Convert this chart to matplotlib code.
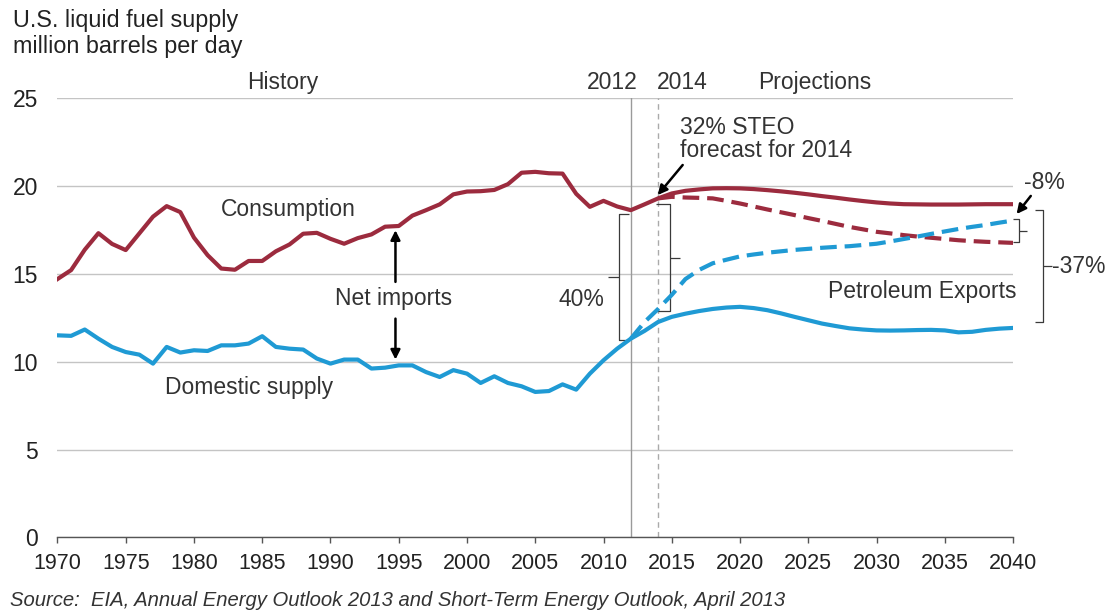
"""
U.S. liquid fuel supply, history and projections (EIA AEO 2013 / STEO).

Redraws the consumption vs. domestic supply chart with the STEO-adjusted
dashed projections and the bracket annotations on the right-hand side.
"""
import matplotlib
matplotlib.use("Agg")
import matplotlib.pyplot as plt

plt.rcParams["font.family"] = ["Liberation Sans", "DejaVu Sans"]

# --------------------------------------------------------------------------- #
# Data (million barrels per day)
# --------------------------------------------------------------------------- #

years_hist = list(range(1970, 2013))
consumption_hist = [
    14.70, 15.21, 16.37, 17.31, 16.70, 16.35, 17.30, 18.25, 18.85, 18.51,
    17.06, 16.06, 15.30, 15.23, 15.73, 15.73, 16.28, 16.67, 17.28, 17.33,
    16.99, 16.71, 17.03, 17.24, 17.68, 17.72, 18.31, 18.62, 18.95, 19.52,
    19.68, 19.70, 19.77, 20.10, 20.75, 20.80, 20.72, 20.70, 19.55, 18.81,
    19.15, 18.83, 18.62,
]
supply_hist = [
    11.50, 11.47, 11.83, 11.31, 10.84, 10.55, 10.40, 9.89, 10.84, 10.52,
    10.65, 10.61, 10.93, 10.93, 11.03, 11.45, 10.84, 10.74, 10.69, 10.18,
    9.89, 10.12, 10.12, 9.61, 9.66, 9.79, 9.79, 9.41, 9.13, 9.52,
    9.32, 8.79, 9.17, 8.79, 8.60, 8.28, 8.33, 8.71, 8.41, 9.32,
    10.08, 10.74, 11.31,
]

years_proj = list(range(2013, 2041))
consumption_proj = [
    18.95, 19.29, 19.57, 19.72, 19.80, 19.86, 19.87, 19.86, 19.82, 19.76,
    19.69, 19.61, 19.52, 19.42, 19.33, 19.23, 19.14, 19.06, 19.00, 18.96,
    18.95, 18.94, 18.94, 18.94, 18.95, 18.96, 18.96, 18.96,
]
supply_proj = [
    11.75, 12.26, 12.55, 12.73, 12.88, 13.00, 13.08, 13.12, 13.05, 12.93,
    12.75, 12.55, 12.36, 12.17, 12.03, 11.90, 11.83, 11.78, 11.77, 11.78,
    11.80, 11.81, 11.78, 11.67, 11.70, 11.81, 11.88, 11.92,
]

# STEO-adjusted projections (dashed)
years_steo_cons = list(range(2014, 2041))
steo_consumption = [
    19.29, 19.38, 19.34, 19.32, 19.29, 19.15, 19.00, 18.83, 18.66, 18.50,
    18.34, 18.17, 18.01, 17.84, 17.67, 17.53, 17.39, 17.30, 17.20, 17.12,
    17.05, 16.98, 16.91, 16.86, 16.82, 16.79, 16.76,
]
years_steo_supply = list(range(2012, 2041))
steo_supply = [
    11.31, 12.25, 13.00, 13.80, 14.70, 15.22, 15.60, 15.80, 15.99, 16.10,
    16.20, 16.28, 16.36, 16.42, 16.48, 16.53, 16.57, 16.64, 16.71, 16.84,
    16.98, 17.12, 17.27, 17.41, 17.55, 17.67, 17.78, 17.91, 18.03,
]

y_ticks = [0, 5, 10, 15, 20, 25]
x_ticks = list(range(1970, 2041, 5))

RED = "#9c2b3e"
BLUE = "#1f9ad4"
TEXT = "#333333"
GRID = "#c4c4c4"


# --------------------------------------------------------------------------- #
# Helpers
# --------------------------------------------------------------------------- #

def bracket(ax, x, x_end, x_tick, y_top, y_bot):
    """Square bracket: vertical at x, ends run to x_end, middle tick to x_tick."""
    kw = dict(color="#3a3a3a", lw=0.9, clip_on=False, solid_capstyle="butt")
    ax.plot([x_end, x, x, x_end], [y_top, y_top, y_bot, y_bot], **kw)
    y_mid = (y_top + y_bot) / 2.0
    ax.plot([x, x_tick], [y_mid, y_mid], **kw)


# --------------------------------------------------------------------------- #
# Figure
# --------------------------------------------------------------------------- #

fig = plt.figure(figsize=(11.2, 6.13), dpi=100)
ax = fig.add_axes([0.0513, 0.1232, 0.8532, 0.7169])

years_all = years_hist + years_proj
ax.plot(years_all, consumption_hist + consumption_proj, color=RED, lw=3.0,
        solid_joinstyle="round", zorder=4)
ax.plot(years_all, supply_hist + supply_proj, color=BLUE, lw=3.0,
        solid_joinstyle="round", zorder=4)
ax.plot(years_steo_cons, steo_consumption, color=RED, lw=3.0,
        dashes=(4.0, 1.9), zorder=5)
ax.plot(years_steo_supply, steo_supply, color=BLUE, lw=3.0,
        dashes=(4.0, 1.9), zorder=5)

ax.set_xlim(1970, 2040)
ax.set_ylim(0, 25)
ax.set_xticks(x_ticks)
ax.set_yticks(y_ticks)

for s in ("top", "right", "left"):
    ax.spines[s].set_visible(False)
ax.spines["bottom"].set_color("#555555")
ax.spines["bottom"].set_linewidth(1.0)

ax.grid(axis="y", color=GRID, lw=1.0)
ax.set_axisbelow(True)
ax.tick_params(axis="y", length=0, pad=14, labelsize=16.5, labelcolor="#222222")
ax.tick_params(axis="x", length=4, width=1, color="#555555", pad=7,
               labelsize=15.5, labelcolor="#222222")

# 2012 / 2014 markers
ax.axvline(2012, ymin=0, ymax=1, color="#9a9a9a", lw=1.0, zorder=2)
ax.axvline(2014, ymin=0, ymax=1, color="#aaaaaa", lw=1.0,
           dashes=(4, 3), zorder=2)

txt = dict(color=TEXT, fontsize=16.5, clip_on=False)
ax.text(1986.5, 25.9, "History", ha="center", va="center", **txt)
ax.text(2010.66, 25.9, "2012", ha="center", va="center", **txt)
ax.text(2015.75, 25.9, "2014", ha="center", va="center", **txt)
ax.text(2025.46, 25.9, "Projections", ha="center", va="center", **txt)

ax.text(1986.9, 18.63, "Consumption", ha="center", va="center", **txt)
ax.text(1994.6, 13.57, "Net imports", ha="center", va="center", **txt)
ax.text(1984.0, 8.56, "Domestic supply", ha="center", va="center", **txt)
ax.text(2008.4, 13.51, "40%", ha="center", va="center", **txt)
ax.text(2040.27, 13.98, "Petroleum Exports", ha="right", va="center", **txt)
ax.text(2015.6, 23.35, "32% STEO", ha="left", va="center", **txt)
ax.text(2015.6, 22.04, "forecast for 2014", ha="left", va="center", **txt)
ax.text(2042.3, 20.17, "-8%", ha="center", va="center", **txt)
ax.text(2042.85, 15.44, "-37%", ha="left", va="center", **txt)

arrow = dict(arrowstyle="-|>", color="black", lw=1.8, mutation_scale=14,
             shrinkA=0, shrinkB=0)
ax.annotate("", xy=(1994.76, 17.48), xytext=(1994.76, 14.54),
            arrowprops=arrow)
ax.annotate("", xy=(1994.76, 10.12), xytext=(1994.76, 12.45),
            arrowprops=arrow)
ax.annotate("", xy=(2013.97, 19.48), xytext=(2015.8, 21.19),
            arrowprops=arrow, annotation_clip=False)
ax.annotate("", xy=(2040.26, 18.40), xytext=(2041.3, 19.43),
            arrowprops=arrow, annotation_clip=False)

bracket(ax, 2011.13, 2011.87, 2010.33, 18.43, 11.26)
bracket(ax, 2014.87, 2013.85, 2015.60, 18.96, 12.87)
bracket(ax, 2040.46, 2040.00, 2041.00, 18.09, 16.82)
bracket(ax, 2042.22, 2041.60, 2042.84, 18.62, 12.26)

fig.text(13 / 1120, 1 - 20 / 613, "U.S. liquid fuel supply",
         ha="left", va="center", fontsize=16.8, color="#222222")
fig.text(13 / 1120, 1 - 47 / 613, "million barrels per day",
         ha="left", va="center", fontsize=16.8, color="#222222")
fig.text(10 / 1120, 1 - 601 / 613,
         "Source:  EIA, Annual Energy Outlook 2013 and Short-Term Energy Outlook, April 2013",
         ha="left", va="center", fontsize=14.6, style="italic", color="#333333")

fig.savefig("out.png", dpi=100, facecolor="white")
